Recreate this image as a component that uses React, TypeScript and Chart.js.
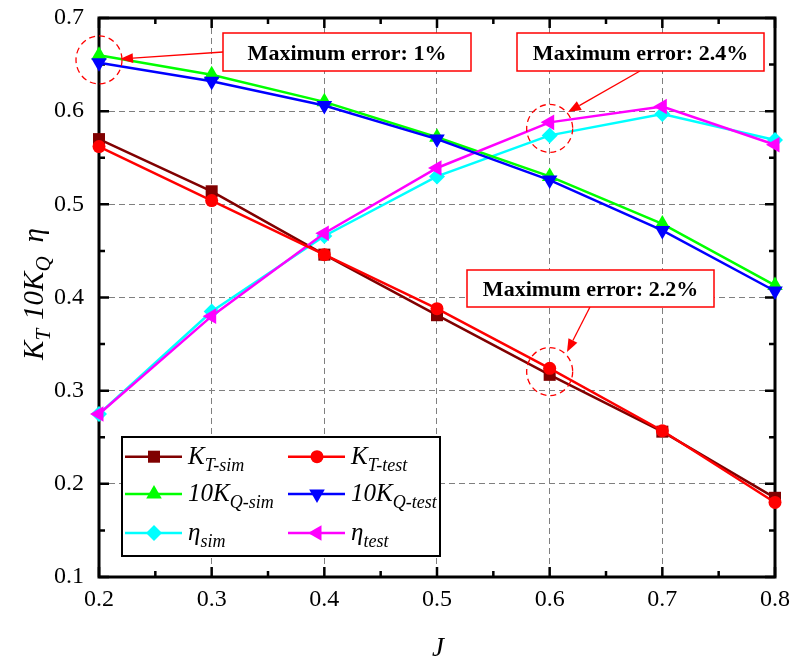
import React, { useEffect, useRef } from 'react';
import { Chart, registerables } from 'chart.js';

Chart.register(...registerables);

const J = [0.2, 0.3, 0.4, 0.5, 0.6, 0.7, 0.8];
const ktSim = [0.570, 0.514, 0.446, 0.381, 0.317, 0.256, 0.185];
const ktTest = [0.562, 0.504, 0.446, 0.388, 0.324, 0.257, 0.180];
const kqSim = [0.660, 0.639, 0.610, 0.572, 0.530, 0.479, 0.413];
const kqTest = [0.652, 0.632, 0.606, 0.570, 0.526, 0.472, 0.407];
const etaSim = [0.275, 0.385, 0.466, 0.530, 0.574, 0.597, 0.569];
const etaTest = [0.275, 0.380, 0.469, 0.539, 0.588, 0.605, 0.564];

const xTickValues = [0.2, 0.3, 0.4, 0.5, 0.6, 0.7, 0.8];
const yTickValues = [0.1, 0.2, 0.3, 0.4, 0.5, 0.6, 0.7];

const annotationTexts = ['Maximum error: 1%', 'Maximum error: 2.4%', 'Maximum error: 2.2%'];

type Seg = { t: string; sub?: boolean; gap?: number };
const legendItems: { main: string; sub: string; color: string; style: string; rot: number; r: number }[] = [
  { main: 'K', sub: 'T-sim', color: '#800000', style: 'rect', rot: 0, r: 8.5 },
  { main: 'K', sub: 'T-test', color: '#ff0000', style: 'circle', rot: 0, r: 6.5 },
  { main: '10K', sub: 'Q-sim', color: '#00ff00', style: 'triangle', rot: 0, r: 9 },
  { main: '10K', sub: 'Q-test', color: '#0000ff', style: 'triangle', rot: 180, r: 9 },
  { main: 'η', sub: 'sim', color: '#00ffff', style: 'rectRot', rot: 0, r: 8 },
  { main: 'η', sub: 'test', color: '#ff00ff', style: 'triangle', rot: 270, r: 9 },
];

const seriesValues = [ktSim, ktTest, kqSim, kqTest, etaSim, etaTest];

const SERIF = '"Liberation Serif", "Times New Roman", serif';

function drawMarker(ctx: CanvasRenderingContext2D, style: string, x: number, y: number, r: number, rotDeg: number, color: string) {
  ctx.save();
  ctx.fillStyle = color;
  ctx.beginPath();
  if (style === 'circle') {
    ctx.arc(x, y, r, 0, Math.PI * 2);
  } else if (style === 'rect') {
    const s = r * Math.SQRT1_2;
    ctx.rect(x - s, y - s, 2 * s, 2 * s);
  } else if (style === 'rectRot') {
    ctx.moveTo(x, y - r);
    ctx.lineTo(x + r, y);
    ctx.lineTo(x, y + r);
    ctx.lineTo(x - r, y);
    ctx.closePath();
  } else if (style === 'triangle') {
    let rad = (rotDeg * Math.PI) / 180;
    ctx.moveTo(x + Math.sin(rad) * r, y - Math.cos(rad) * r);
    rad += (2 * Math.PI) / 3;
    ctx.lineTo(x + Math.sin(rad) * r, y - Math.cos(rad) * r);
    rad += (2 * Math.PI) / 3;
    ctx.lineTo(x + Math.sin(rad) * r, y - Math.cos(rad) * r);
    ctx.closePath();
  }
  ctx.fill();
  ctx.restore();
}

function drawSegs(ctx: CanvasRenderingContext2D, segs: Seg[], x: number, y: number, mainFont: string, subFont: string, subDy: number) {
  let cx = x;
  for (const s of segs) {
    cx += s.gap || 0;
    ctx.font = s.sub ? subFont : mainFont;
    ctx.fillText(s.t, cx, s.sub ? y + subDy : y);
    cx += ctx.measureText(s.t).width;
  }
  return cx - x;
}

function measureSegs(ctx: CanvasRenderingContext2D, segs: Seg[], mainFont: string, subFont: string) {
  let w = 0;
  for (const s of segs) {
    ctx.font = s.sub ? subFont : mainFont;
    w += ctx.measureText(s.t).width + (s.gap || 0);
  }
  return w;
}

function arrow(ctx: CanvasRenderingContext2D, x1: number, y1: number, x2: number, y2: number) {
  ctx.save();
  ctx.strokeStyle = '#ff0000';
  ctx.fillStyle = '#ff0000';
  ctx.lineWidth = 1.3;
  const ang = Math.atan2(y2 - y1, x2 - x1);
  const hl = 13, hw = 5;
  const bx = x2 - Math.cos(ang) * hl;
  const by = y2 - Math.sin(ang) * hl;
  ctx.beginPath();
  ctx.moveTo(x1, y1);
  ctx.lineTo(bx, by);
  ctx.stroke();
  ctx.beginPath();
  ctx.moveTo(x2, y2);
  ctx.lineTo(bx - Math.sin(ang) * hw, by + Math.cos(ang) * hw);
  ctx.lineTo(bx + Math.sin(ang) * hw, by - Math.cos(ang) * hw);
  ctx.closePath();
  ctx.fill();
  ctx.restore();
}

const framePlugin = {
  id: 'frameTicks',
  beforeDatasetsDraw(chart: any) {
    const { ctx, chartArea: a, scales } = chart;
    const xs = scales.x, ys = scales.y;
    ctx.save();
    ctx.strokeStyle = '#000';
    ctx.lineWidth = 2.5;
    const majorLen = 10, minorLen = 6;
    ctx.beginPath();
    for (let i = 0; i <= 12; i++) {
      const v = 0.2 + i * 0.05;
      const px = xs.getPixelForValue(v);
      const len = i % 2 === 0 ? majorLen : minorLen;
      ctx.moveTo(px, a.bottom);
      ctx.lineTo(px, a.bottom - len);
      ctx.moveTo(px, a.top);
      ctx.lineTo(px, a.top + len);
    }
    for (let i = 0; i <= 12; i++) {
      const v = 0.1 + i * 0.05;
      const py = ys.getPixelForValue(v);
      const len = i % 2 === 0 ? majorLen : minorLen;
      ctx.moveTo(a.left, py);
      ctx.lineTo(a.left + len, py);
      ctx.moveTo(a.right, py);
      ctx.lineTo(a.right - len, py);
    }
    ctx.stroke();
    ctx.lineWidth = 3;
    ctx.strokeRect(a.left, a.top, a.right - a.left, a.bottom - a.top);
    ctx.restore();
  },
  afterDraw(chart: any) {
    const { ctx, scales } = chart;
    const xs = scales.x, ys = scales.y;
    ctx.save();

    // dashed circles
    const circles = [
      [0.2, 0.655],
      [0.6, 0.5815],
      [0.6, 0.3205],
    ];
    ctx.strokeStyle = '#ff0000';
    ctx.lineWidth = 1.3;
    ctx.setLineDash([6, 4]);
    for (const [cx, cy] of circles) {
      ctx.beginPath();
      ctx.ellipse(xs.getPixelForValue(cx), ys.getPixelForValue(cy), 23, 24, 0, 0, Math.PI * 2);
      ctx.stroke();
    }
    ctx.setLineDash([]);

    // arrows
    arrow(ctx, 223, 52, 120, 59);
    arrow(ctx, 640, 71, 568, 112);
    arrow(ctx, 590, 307, 567, 352);

    // annotation boxes
    const boxes = [
      [223, 33, 248, 38],
      [517, 33, 247, 38],
      [467, 270, 247, 37],
    ];
    boxes.forEach((b, i) => {
      ctx.fillStyle = '#fff';
      ctx.fillRect(b[0], b[1], b[2], b[3]);
      ctx.strokeStyle = '#ff0000';
      ctx.lineWidth = 1.5;
      ctx.strokeRect(b[0], b[1], b[2], b[3]);
      ctx.fillStyle = '#000';
      ctx.font = `bold 22px ${SERIF}`;
      ctx.textAlign = 'center';
      ctx.textBaseline = 'alphabetic';
      ctx.fillText(annotationTexts[i], b[0] + b[2] / 2, b[1] + b[3] / 2 + 7.5);
    });

    // legend
    const lx = 122, ly = 437, lw = 318, lh = 119;
    ctx.fillStyle = '#fff';
    ctx.fillRect(lx, ly, lw, lh);
    ctx.strokeStyle = '#000';
    ctx.lineWidth = 2;
    ctx.strokeRect(lx, ly, lw, lh);
    const rowsY = [456.7, 494, 533];
    const colX = [125, 288];
    ctx.textAlign = 'left';
    legendItems.forEach((it, i) => {
      const col = i % 2, row = Math.floor(i / 2);
      const x0 = colX[col], y0 = rowsY[row];
      ctx.strokeStyle = it.color;
      ctx.lineWidth = 2.5;
      ctx.beginPath();
      ctx.moveTo(x0, y0);
      ctx.lineTo(x0 + 57, y0);
      ctx.stroke();
      drawMarker(ctx, it.style, x0 + 29, y0, it.r, it.rot, it.color);
      ctx.fillStyle = '#000';
      drawSegs(ctx, [{ t: it.main }, { t: it.sub, sub: true }], x0 + 63, y0 + 7, `italic 25px ${SERIF}`, `italic 18px ${SERIF}`, 7);
    });

    // y title (rotated)
    const ySegs: Seg[] = [
      { t: 'K' }, { t: 'T', sub: true }, { t: '10K', gap: 9 }, { t: 'Q', sub: true }, { t: 'η', gap: 14 },
    ];
    const mf = `italic 29px ${SERIF}`, sf = `italic 21px ${SERIF}`;
    const tw = measureSegs(ctx, ySegs, mf, sf);
    ctx.save();
    ctx.translate(43, 294);
    ctx.rotate(-Math.PI / 2);
    ctx.fillStyle = '#000';
    ctx.textAlign = 'left';
    drawSegs(ctx, ySegs, -tw / 2, 0, mf, sf, 7);
    ctx.restore();

    // x title
    ctx.fillStyle = '#000';
    ctx.font = `italic 27px ${SERIF}`;
    ctx.textAlign = 'center';
    ctx.fillText('J', 438, 656);

    ctx.restore();
  },
};

export default function App() {
  const ref = useRef<HTMLCanvasElement | null>(null);
  useEffect(() => {
    if (!ref.current) return;
    const mk = (vals: number[]) => J.map((x, i) => ({ x, y: vals[i] }));
    const datasets = legendItems.map((it, i) => ({
      label: it.main + it.sub,
      data: mk(seriesValues[i]),
      borderColor: it.color,
      backgroundColor: it.color,
      borderWidth: 2.5,
      pointStyle: it.style,
      pointRotation: it.rot,
      pointRadius: it.r,
      pointBorderWidth: 0,
      pointBackgroundColor: it.color,
      pointBorderColor: it.color,
      clip: false as any,
      order: i % 2 === 1 ? 0 : 1,
      tension: 0,
    }));
    const chart = new Chart(ref.current, {
      type: 'line',
      data: { datasets },
      options: {
        animation: false,
        responsive: false,
        maintainAspectRatio: false,
        layout: { padding: { top: 18, right: 17, left: 0, bottom: 0 } },
        plugins: { legend: { display: false }, tooltip: { enabled: false } },
        scales: {
          x: {
            type: 'linear',
            min: 0.2,
            max: 0.8,
            afterBuildTicks: (s: any) => { s.ticks = xTickValues.map((v) => ({ value: v })); },
            afterFit: (s: any) => { s.height = 85; s.paddingLeft = 0; s.paddingRight = 0; s.paddingTop = 0; s.paddingBottom = 0; },
            ticks: {
              padding: 8,
              color: '#000',
              font: { family: SERIF, size: 24 },
              callback: (v: any) => Number(v).toFixed(1),
              maxRotation: 0,
            },
            grid: { color: '#7f7f7f', lineWidth: 1, drawTicks: false },
            border: { display: false, dash: [6, 4] },
          },
          y: {
            type: 'linear',
            min: 0.1,
            max: 0.7,
            afterBuildTicks: (s: any) => { s.ticks = yTickValues.map((v) => ({ value: v })); },
            afterFit: (s: any) => { s.width = 99; s.paddingLeft = 0; s.paddingRight = 0; s.paddingTop = 0; s.paddingBottom = 0; },
            ticks: {
              padding: 15,
              color: '#000',
              font: { family: SERIF, size: 24 },
              callback: (v: any) => Number(v).toFixed(1),
            },
            grid: { color: '#7f7f7f', lineWidth: 1, drawTicks: false },
            border: { display: false, dash: [6, 4] },
          },
        },
      },
      plugins: [framePlugin],
    });
    return () => chart.destroy();
  }, []);
  return (
    <div style={{ position: 'absolute', left: 0, top: 0, width: 792, height: 662, background: '#fff' }}>
      <canvas ref={ref} width={792} height={662} style={{ width: 792, height: 662 }} />
    </div>
  );
}
